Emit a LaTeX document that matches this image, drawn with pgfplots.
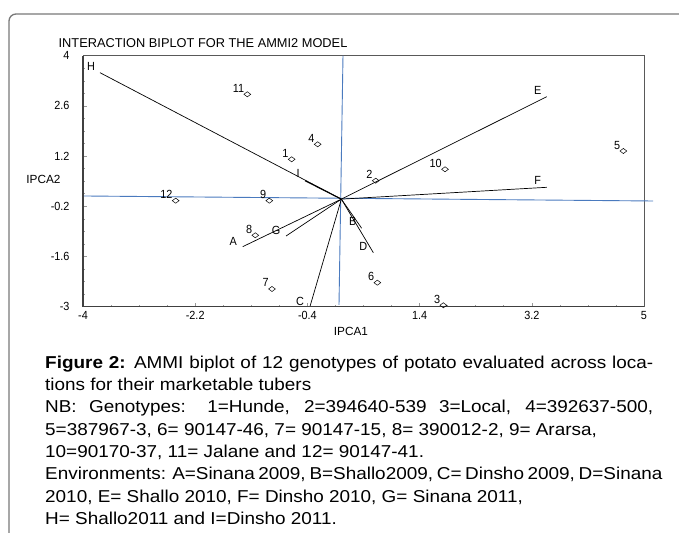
\documentclass[border=0pt]{standalone}
\usepackage{fontspec}
\setmainfont{Liberation Sans}
\newfontfamily\capfont[FakeStretch=1.1]{Liberation Sans}
\newfontfamily\chartfont[FakeStretch=0.92]{Liberation Sans}
\usepackage{pgfplots}
\pgfplotsset{compat=1.18}
\usepackage{pgfplotstable}
\definecolor{axblue}{RGB}{74,122,190}
\definecolor{framegray}{RGB}{120,120,120}

\pgfplotstableread{
x y label
-0.652 1.111 1
0.696 0.514 2
1.781 -2.960 3
-0.235 1.529 4
4.669 1.342 5
0.722 -2.330 6
-0.968 -2.506 7
-1.236 -1.008 8
-1.011 -0.043 9
1.808 0.832 10
-1.364 2.924 11
-2.513 -0.043 12
}\genotypes

\newcommand{\fs}{\chartfont\fontsize{11.8}{13}\selectfont}
\newcommand{\cs}{\capfont\fontsize{17.2}{22.3}\selectfont}

\begin{document}
\begin{tikzpicture}
\useasboundingbox (0,0) rectangle (679pt,-532pt);
\draw[framegray, line width=1.3pt, rounded corners=7pt] (690pt,-14pt) -- (9pt,-14pt) -- (9pt,-545pt);

\node[font=\fontsize{12.8}{15}\selectfont] at (203pt,-43.5pt) {INTERACTION BIPLOT FOR THE AMMI2 MODEL};
\node[font=\fontsize{11.8}{13}\selectfont] at (351pt,-331pt) {IPCA1};
\node[font=\fontsize{11.8}{13}\selectfont] at (43.5pt,-179.5pt) {IPCA2};

\begin{axis}[
  at={(83pt,-306.7pt)}, anchor=south west,
  scale only axis, width=561pt, height=251pt,
  xmin=-4, xmax=5, ymin=-3, ymax=4,
  clip=false,
  xtick={-4,-2.2,-0.4,1.4,3.2,5},
  xticklabels={-4,-2.2,-0.4,1.4,3.2,5},
  ytick={-3,-1.6,-0.2,1.2,2.6,4},
  yticklabels={-3,-1.6,-0.2,1.2,2.6,4},
  minor x tick num=3, minor y tick num=3,
  tick align=inside, xtick pos=bottom, ytick pos=left,
  major tick length=4pt, minor tick length=1.5pt,
  tick style={black!40, line width=0.6pt},
  axis line style={black!65, line width=0.8pt},
  ticklabel style={font=\fs},
  xticklabel style={yshift=-1pt},
  yticklabel style={xshift=-10pt},
]
% reference axes (blue)
\addplot[axblue, line width=0.9pt] coordinates {(-4,0.088) (5.145,-0.052)};
\addplot[axblue, line width=0.9pt] coordinates {(0.171,4) (0.107,-2.95)};

% environment vectors
\addplot[black, line width=0.7pt] coordinates {(0.145,0) (-3.727,3.526)} node[pos=1, xshift=-9pt, yshift=6.5pt, font=\fs] {H};
\addplot[black, line width=1.1pt] coordinates {(0.145,0) (-0.438,0.514)} node[pos=1, xshift=-7pt, yshift=7.5pt, font=\fs] {I};
\addplot[black, line width=0.7pt] coordinates {(0.145,0) (3.44,2.857)} node[pos=1, xshift=-9pt, yshift=6.5pt, font=\fs] {E};
\addplot[black, line width=0.7pt] coordinates {(0.145,0) (3.44,0.330)} node[pos=1, xshift=-9pt, yshift=6.5pt, font=\fs] {F};
\addplot[black, line width=0.7pt] coordinates {(0.145,0) (-1.438,-1.326)} node[pos=1, xshift=-9.5pt, yshift=5pt, font=\fs] {A};
\addplot[black, line width=0.7pt] coordinates {(0.145,0) (-0.743,-1.028)} node[pos=1, xshift=-10pt, yshift=6pt, font=\fs] {G};
\addplot[black, line width=0.7pt] coordinates {(0.145,0) (-0.358,-2.99)} node[pos=1, xshift=-10pt, yshift=5pt, font=\fs] {C};
\addplot[black, line width=0.7pt] coordinates {(0.145,0) (0.471,-0.813)} node[pos=1, xshift=-9pt, yshift=6.5pt, font=\fs] {B};
\addplot[black, line width=0.7pt] coordinates {(0.145,0) (0.658,-1.494)} node[pos=1, xshift=-10pt, yshift=6pt, font=\fs] {D};

% genotypes
\addplot[only marks, mark=diamond, mark size=3.4pt,
  mark options={rotate=90, draw=black, fill=white, line width=0.5pt},
  nodes near coords, point meta=explicit symbolic,
  every node near coord/.append style={anchor=base east, inner sep=0pt, xshift=-3pt, yshift=2pt, font=\fs, black}]
  table[x=x, y=y, meta=label] {\genotypes};

\draw[black!75, line width=1.4pt] (rel axis cs:0,1) -- (rel axis cs:0,0) -- (rel axis cs:1,0);
\end{axis}

% caption
\node[anchor=base west, inner sep=0pt, font=\cs] at (45pt,-368.3pt) {\makebox[608pt][s]{\textbf{Figure 2:} AMMI biplot of 12 genotypes of potato evaluated across loca-}};
\node[anchor=base west, inner sep=0pt, font=\cs] at (45pt,-390.6pt) {tions for their marketable tubers};
\node[anchor=base west, inner sep=0pt, font=\cs] at (45pt,-412.9pt) {\makebox[608pt][s]{NB: Genotypes: 1=Hunde, 2=394640-539 3=Local, 4=392637-500,}};
\node[anchor=base west, inner sep=0pt, font=\cs] at (45pt,-435.2pt) {5=387967-3, 6= 90147-46, 7= 90147-15, 8= 390012-2, 9= Ararsa,};
\node[anchor=base west, inner sep=0pt, font=\cs] at (45pt,-457.5pt) {10=90170-37, 11= Jalane and 12= 90147-41.};
\node[anchor=base west, inner sep=0pt, font=\cs] at (45pt,-479.8pt) {\makebox[608pt][s]{Environments: A=Sinana 2009, B=Shallo2009, C= Dinsho 2009, D=Sinana}};
\node[anchor=base west, inner sep=0pt, font=\cs] at (45pt,-502.1pt) {2010, E= Shallo 2010, F= Dinsho 2010, G= Sinana 2011,};
\node[anchor=base west, inner sep=0pt, font=\cs] at (45pt,-524.4pt) {H= Shallo2011 and I=Dinsho 2011.};
\end{tikzpicture}
\end{document}
